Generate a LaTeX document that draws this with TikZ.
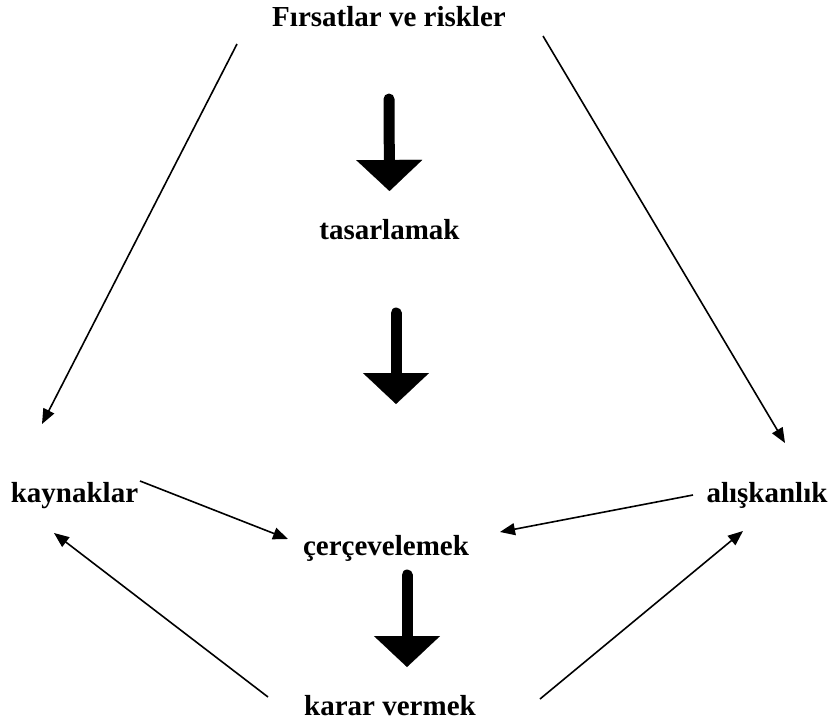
\documentclass[tikz,border=0pt]{standalone}
\usepackage{fontspec}
\setmainfont{Liberation Serif}
\usetikzlibrary{arrows.meta}

\begin{document}
\begin{tikzpicture}[
  x=1pt, y=-1pt,
  lbl/.style={anchor=base, inner sep=0pt,
              font=\bfseries\fontsize{29}{34}\selectfont},
  thin/.style={-{Triangle[length=15pt, width=12pt]}, line width=1.6pt},
  bigarrow/.style={-{Triangle[length=31pt, width=66pt, line width=0.1pt]},
                   line width=11pt, line cap=round}
]
\useasboundingbox (0,0) rectangle (833,723);

\node[lbl] (risk)  at (389,26)    {Fırsatlar ve riskler};
\node[lbl] (tasar) at (389.5,239) {tasarlamak};
\node[lbl] (kayn)  at (74.5,502)  {kaynaklar};
\node[lbl] (alis)  at (767,502)   {alışkanlık};
\node[lbl] (cerc)  at (386,555)   {çerçevelemek};
\node[lbl] (karar) at (390,715)   {karar vermek};
\coordinate (mid) at (396,404);

% thick arrows down the middle
\draw[bigarrow] ([shift={(0,73)}]risk.base) -- ([shift={(0,-48)}]tasar.base);
\draw[bigarrow] ([shift={(6.5,74)}]tasar.base) -- (mid);
\draw[bigarrow] ([shift={(21,20)}]cerc.base) -- ([shift={(21,112)}]cerc.base);

% thin arrows
\draw[thin] ([shift={(-152,18)}]risk.base) -- ([shift={(-32.5,-78)}]kayn.base);
\draw[thin] ([shift={(154,10)}]risk.base)  -- ([shift={(18,-59)}]alis.base);
\draw[thin] ([shift={(65.5,-21)}]kayn.base) -- ([shift={(-98,-16)}]cerc.base);
\draw[thin] ([shift={(-74,-7)}]alis.base)  -- ([shift={(114,-23)}]cerc.base);
\draw[thin] ([shift={(-122,-18)}]karar.base) -- ([shift={(-20.5,31)}]kayn.base);
\draw[thin] ([shift={(150,-16)}]karar.base) -- ([shift={(-24,29)}]alis.base);
\end{tikzpicture}
\end{document}
